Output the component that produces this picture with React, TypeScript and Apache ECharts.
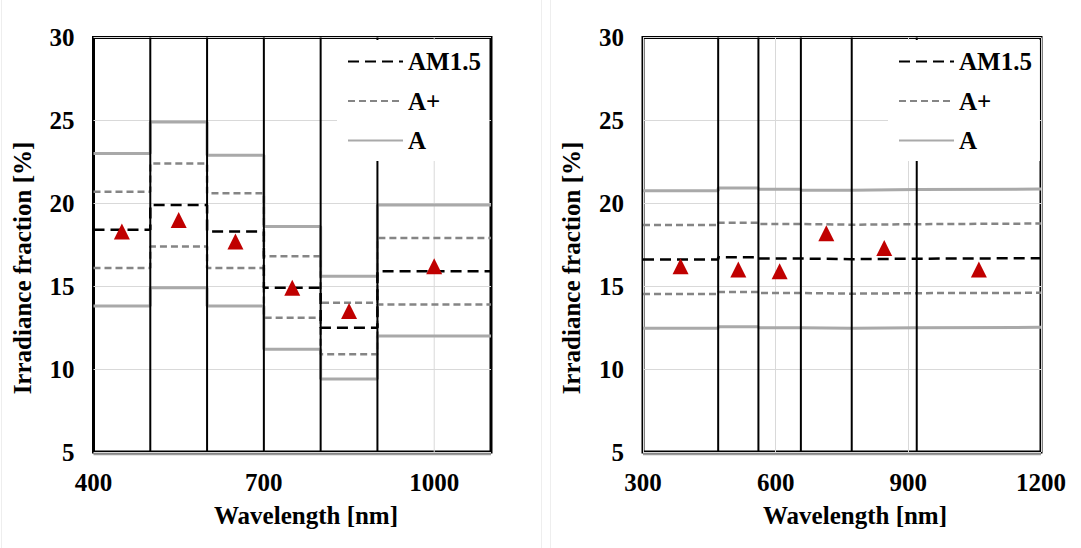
import React, { useEffect, useRef } from "react";
import * as echarts from "echarts";

// ---- Left panel (400–1100 nm bands) ----
const leftEdges = [400, 500, 600, 700, 800, 900, 1100];
const leftAM15 = [18.4, 19.9, 18.3, 14.9, 12.5, 15.9];
const leftAPlusUpper = [20.7, 22.4, 20.6, 16.8, 14.0, 17.9];
const leftAPlusLower = [16.1, 17.4, 16.1, 13.1, 10.9, 13.9];
const leftAUpper = [23.0, 24.9, 22.9, 18.6, 15.6, 19.9];
const leftALower = [13.8, 14.9, 13.8, 11.2, 9.4, 12.0];
const leftMeasuredX = [450, 550, 650, 750, 850, 1000];
const leftMeasuredY = [18.3, 19.0, 17.7, 14.9, 13.5, 16.2];
const leftXTickLabels = [400, 700, 1000];
const leftGridX = [700, 1000];

// ---- Right panel (300–1200 nm bands) ----
const rightEdges = [300, 470, 561, 657, 772, 919, 1200];
const rightAM15 = [16.61, 16.74, 16.67, 16.63, 16.66, 16.69];
const rightAPlusUpper = [18.69, 18.83, 18.75, 18.71, 18.74, 18.78];
const rightAPlusLower = [14.53, 14.65, 14.59, 14.55, 14.58, 14.6];
const rightAUpper = [20.76, 20.93, 20.84, 20.79, 20.83, 20.86];
const rightALower = [12.46, 12.56, 12.5, 12.47, 12.5, 12.52];
const rightMeasuredX = [385, 515.5, 609, 714.5, 845.5, 1059.5];
const rightMeasuredY = [16.2, 16.0, 15.9, 18.2, 17.3, 16.0];

const yTicks = [5, 10, 15, 20, 25, 30];
const legendNames = ["AM1.5", "A+", "A"];
const xTitle = "Wavelength [nm]";
const yTitle = "Irradiance fraction [%]";

const FONT = "'Liberation Serif', 'Times New Roman', serif";
const AXIS_FONT = { fontSize: 25, fontWeight: "bold", fontFamily: FONT, color: "#000" };

const stepData = (edges: number[], values: number[]) => {
  const d = values.map((v, i) => [edges[i], v]);
  d.push([edges[edges.length - 1], values[values.length - 1]]);
  return d;
};

const styleAM = { color: "#000", width: 2.5, type: [11, 6] };
const styleAPlus = { color: "#858585", width: 2.5, type: [7, 4] };
const styleA = { color: "#a9a9a9", width: 3, type: "solid" };

function panelSeries(
  idx: number,
  edges: number[],
  am: number[],
  apU: number[],
  apL: number[],
  aU: number[],
  aL: number[],
  mx: number[],
  my: number[],
  gridX: number[]
) {
  const base = { xAxisIndex: idx, yAxisIndex: idx, type: "line", symbol: "none", silent: true, step: "end" };
  const s: any[] = [];
  gridX.forEach((x) => {
    s.push({
      type: "line",
      xAxisIndex: idx,
      yAxisIndex: idx,
      symbol: "none",
      silent: true,
      z: 1,
      data: [[x, yTicks[0]], [x, yTicks[yTicks.length - 1]]],
      lineStyle: { color: "#d9d9d9", width: 1 },
    });
  });
  s.push({ ...base, name: "A", z: 2, data: stepData(edges, aU), lineStyle: styleA, itemStyle: { color: styleA.color } });
  s.push({ ...base, name: "A", z: 2, data: stepData(edges, aL), lineStyle: styleA, itemStyle: { color: styleA.color } });
  s.push({ ...base, name: "A+", z: 2, data: stepData(edges, apU), lineStyle: styleAPlus, itemStyle: { color: styleAPlus.color } });
  s.push({ ...base, name: "A+", z: 2, data: stepData(edges, apL), lineStyle: styleAPlus, itemStyle: { color: styleAPlus.color } });
  s.push({ ...base, name: "AM1.5", z: 2, data: stepData(edges, am), lineStyle: styleAM, itemStyle: { color: styleAM.color } });
  edges.slice(1, -1).forEach((x) => {
    s.push({
      type: "line",
      xAxisIndex: idx,
      yAxisIndex: idx,
      symbol: "none",
      silent: true,
      z: 3,
      data: [[x, yTicks[0]], [x, yTicks[yTicks.length - 1]]],
      lineStyle: { color: "#000", width: 2 },
    });
  });
  s.push({
    type: "scatter",
    xAxisIndex: idx,
    yAxisIndex: idx,
    symbol: "triangle",
    symbolSize: 16,
    z: 4,
    silent: true,
    itemStyle: { color: "#c00000", opacity: 1 },
    data: mx.map((x, i) => [x, my[i]]),
  });
  return s;
}

const yAxisCfg = (idx: number) => ({
  type: "value",
  gridIndex: idx,
  min: yTicks[0],
  max: yTicks[yTicks.length - 1],
  interval: 5,
  axisLine: { show: false },
  axisTick: { show: false },
  axisLabel: { ...AXIS_FONT, margin: 19 },
  splitLine: { show: true, lineStyle: { color: "#d9d9d9", width: 1 } },
});

const legendCfg = (left: number) => ({
  orient: "vertical",
  left,
  top: 40,
  padding: [9, 8, 8, 10],
  itemWidth: 55,
  itemHeight: 25,
  itemGap: 14.5,
  backgroundColor: "#fff",
  z: 10,
  selectedMode: false,
  itemStyle: { opacity: 0 },
  data: legendNames,
  textStyle: { ...AXIS_FONT, lineHeight: 25, padding: [0, 0, 0, 0] },
});

const frameUnderline = (x1: number, x2: number) => ({
  type: "line",
  silent: true,
  shape: { x1, y1: 454.5, x2, y2: 454.5 },
  style: { stroke: "#9a9a9a", lineWidth: 1.5 },
});

export default function App() {
  const ref = useRef<HTMLDivElement>(null);
  useEffect(() => {
    if (!ref.current) return;
    const chart = echarts.init(ref.current, null, { renderer: "svg" });
    const option: any = {
      animation: false,
      backgroundColor: "#fff",
      grid: [
        { left: 93.5, top: 37.5, width: 397.5, height: 414.5, show: true, borderColor: "#000", borderWidth: 3, backgroundColor: "transparent" },
        { left: 643, top: 37.5, width: 398, height: 414.5, show: true, borderColor: "#000", borderWidth: 3, backgroundColor: "transparent" },
      ],
      xAxis: [
        {
          type: "value",
          gridIndex: 0,
          min: leftEdges[0],
          max: leftEdges[leftEdges.length - 1],
          interval: 100,
          axisLine: { show: false },
          axisTick: { show: false },
          splitLine: { show: false },
          axisLabel: {
            ...AXIS_FONT,
            margin: 18,
            lineHeight: 25,
            formatter: (v: number) => (leftXTickLabels.includes(v) ? String(v) : ""),
          },
        },
        {
          type: "value",
          gridIndex: 1,
          min: rightEdges[0],
          max: rightEdges[rightEdges.length - 1],
          interval: 300,
          axisLine: { show: false },
          axisTick: { show: false },
          splitLine: { show: true, lineStyle: { color: "#d9d9d9", width: 1 } },
          axisLabel: { ...AXIS_FONT, margin: 18, lineHeight: 25, formatter: (v: number) => String(v) },
        },
      ],
      yAxis: [yAxisCfg(0), yAxisCfg(1)],
      legend: [legendCfg(337), legendCfg(888)],
      series: [
        ...panelSeries(0, leftEdges, leftAM15, leftAPlusUpper, leftAPlusLower, leftAUpper, leftALower, leftMeasuredX, leftMeasuredY, leftGridX),
        ...panelSeries(1, rightEdges, rightAM15, rightAPlusUpper, rightAPlusLower, rightAUpper, rightALower, rightMeasuredX, rightMeasuredY, []),
      ],
      graphic: [
        { type: "line", shape: { x1: 1.5, y1: 0, x2: 1.5, y2: 548 }, style: { stroke: "#eeeeee", lineWidth: 1 }, silent: true },
        { type: "line", shape: { x1: 541.5, y1: 0, x2: 541.5, y2: 548 }, style: { stroke: "#eeeeee", lineWidth: 1 }, silent: true },
        { type: "line", shape: { x1: 550.5, y1: 0, x2: 550.5, y2: 548 }, style: { stroke: "#eeeeee", lineWidth: 1 }, silent: true },
        frameUnderline(93.5, 491),
        frameUnderline(643, 1041),
        { type: "text", x: 306, y: 515, style: { text: xTitle, font: `bold 25px ${FONT}`, fill: "#000", align: "center", verticalAlign: "middle" } },
        { type: "text", x: 855, y: 515, style: { text: xTitle, font: `bold 25px ${FONT}`, fill: "#000", align: "center", verticalAlign: "middle" } },
        { type: "text", x: 22, y: 268, rotation: Math.PI / 2, style: { text: yTitle, font: `bold 25px ${FONT}`, fill: "#000", align: "center", verticalAlign: "middle" } },
        { type: "text", x: 571, y: 268, rotation: Math.PI / 2, style: { text: yTitle, font: `bold 25px ${FONT}`, fill: "#000", align: "center", verticalAlign: "middle" } },
      ],
    };
    chart.setOption(option);
    return () => chart.dispose();
  }, []);
  return <div ref={ref} style={{ position: "fixed", left: 0, top: 0, width: 1081, height: 548 }} />;
}
